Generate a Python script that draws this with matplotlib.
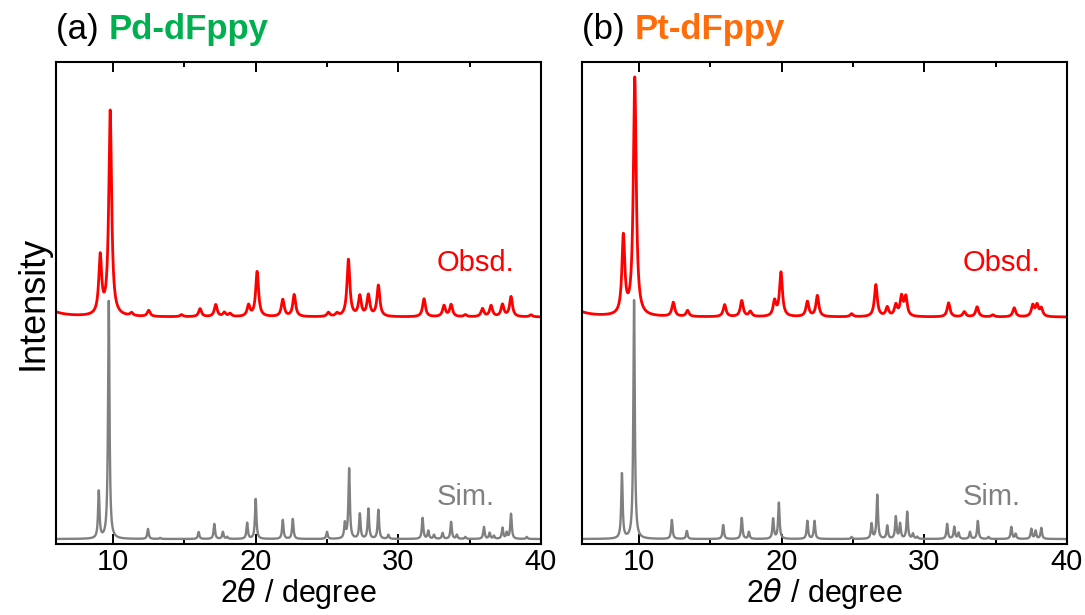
import numpy as np
import matplotlib.pyplot as plt

plt.rcParams["font.family"] = ["Liberation Sans", "DejaVu Sans"]

# Peak lists: 2theta (deg) and height above baseline (a.u.)
pd_obs_pos = [5.0, 9.1, 9.8, 11.3, 12.5, 14.8, 16.1, 17.2, 17.8, 18.2, 19.5, 20.1,
              21.9, 22.7, 25.1, 25.7, 26.5, 27.3, 27.9, 28.6, 31.8, 33.2, 33.7,
              34.7, 35.9, 36.5, 37.3, 37.9, 39.3]
pd_obs_h = [10, 58, 205, 3, 6, 2, 8, 12, 4, 3, 11, 45,
            17, 22, 4, 3, 57, 20, 21, 31, 18, 11, 12,
            2, 8, 11, 12, 20, 2]

pd_sim_pos = [9.0, 9.7, 12.45, 13.3, 16.0, 17.1, 17.7, 18.0, 19.4, 20.0, 21.9, 22.6,
              25.0, 26.25, 26.55, 27.3, 27.9, 28.6, 29.3, 31.7, 32.1, 32.5, 33.1,
              33.7, 34.1, 34.7, 36.0, 36.4, 36.7, 37.3, 37.6, 37.9, 39.0]
pd_sim_h = [47, 238, 10, 1, 7, 15, 7, 2, 16, 40, 19, 20,
            7, 15, 70, 25, 30, 29, 4, 21, 8, 4, 6,
            17, 4, 2, 12, 6, 3, 11, 6, 25, 2]

pt_obs_pos = [5.0, 8.9, 9.7, 12.4, 13.4, 16.0, 17.2, 17.8, 19.5, 19.95, 21.8, 22.5,
              24.9, 26.6, 27.4, 28.0, 28.4, 28.7, 31.7, 32.8, 33.7, 34.8, 36.3,
              37.6, 37.9, 38.2]
pt_obs_h = [10, 78, 238, 14, 6, 12, 16, 5, 15, 44, 15, 21,
            3, 32, 9, 11, 19, 19, 14, 5, 10, 2, 9,
            11, 11, 8]

pt_sim_pos = [8.8, 9.65, 12.3, 13.35, 15.9, 17.2, 17.7, 19.4, 19.8, 21.8, 22.3,
              24.9, 26.3, 26.7, 27.4, 28.0, 28.3, 28.8, 29.2, 29.5, 31.6, 32.1,
              32.4, 33.2, 33.75, 34.5, 36.1, 36.4, 37.5, 37.8, 38.2]
pt_sim_h = [65, 239, 19, 8, 14, 21, 7, 20, 36, 18, 18,
            2, 15, 44, 13, 22, 15, 27, 5, 2, 15, 12,
            6, 7, 18, 2, 12, 5, 10, 8, 11]

panels = [
    ("(a) ", "Pd-dFppy", "#00b050", pd_obs_pos, pd_obs_h, pd_sim_pos, pd_sim_h),
    ("(b) ", "Pt-dFppy", "#ff6d0a", pt_obs_pos, pt_obs_h, pt_sim_pos, pt_sim_h),
]

obs_offset = 227
sim_offset = 5


def profile(x, pos, h, hw):
    y = np.zeros_like(x)
    for c, a in zip(pos, h):
        w = 1.0 if c < 6 else hw
        y += a / (1 + ((x - c) / w) ** 2)
    return y


x = np.linspace(6, 40, 4000)

fig = plt.figure(figsize=(10.85, 6.15), dpi=100)
axes = [fig.add_axes([0.0516, 0.1154, 0.447, 0.7837]),
        fig.add_axes([0.5364, 0.1154, 0.447, 0.7837])]

for ax, (tag, name, col, op, oh, sp, sh) in zip(axes, panels):
    ax.plot(x, sim_offset + profile(x, sp, sh, 0.06), color="#808080", lw=1.7)
    ax.plot(x, obs_offset + profile(x, op, oh, 0.12), color="#ff0000", lw=2.0)

    ax.set_xlim(6, 40)
    ax.set_ylim(0, 482)
    ax.set_xticks([10, 20, 30, 40])
    ax.set_xticks([15, 25, 35], minor=True)
    ax.set_yticks([])
    ax.tick_params(axis="x", which="both", direction="in", top=True, width=1.4,
                   labelsize=21, pad=3)
    ax.tick_params(axis="x", which="major", length=7)
    ax.tick_params(axis="x", which="minor", length=3.5)
    for s in ax.spines.values():
        s.set_linewidth(1.5)
    ax.set_xlabel(r"2$\theta$ / degree", fontsize=22, labelpad=0)

    ax.text(32.7, 281, "Obsd.", color="#ff0000", fontsize=21, va="center")
    ax.text(32.7, 47, "Sim.", color="#808080", fontsize=21, va="center")

    t = ax.text(0.0, 1.068, tag, transform=ax.transAxes, fontsize=25,
                va="center", ha="left")
    ax.annotate(name, xy=(1, 0.5), xycoords=t, va="center", ha="left",
                fontsize=25, fontweight="bold", color=col)

axes[0].set_ylabel("Intensity", fontsize=26, labelpad=4)

plt.savefig("out.png", dpi=100)
plt.close()
